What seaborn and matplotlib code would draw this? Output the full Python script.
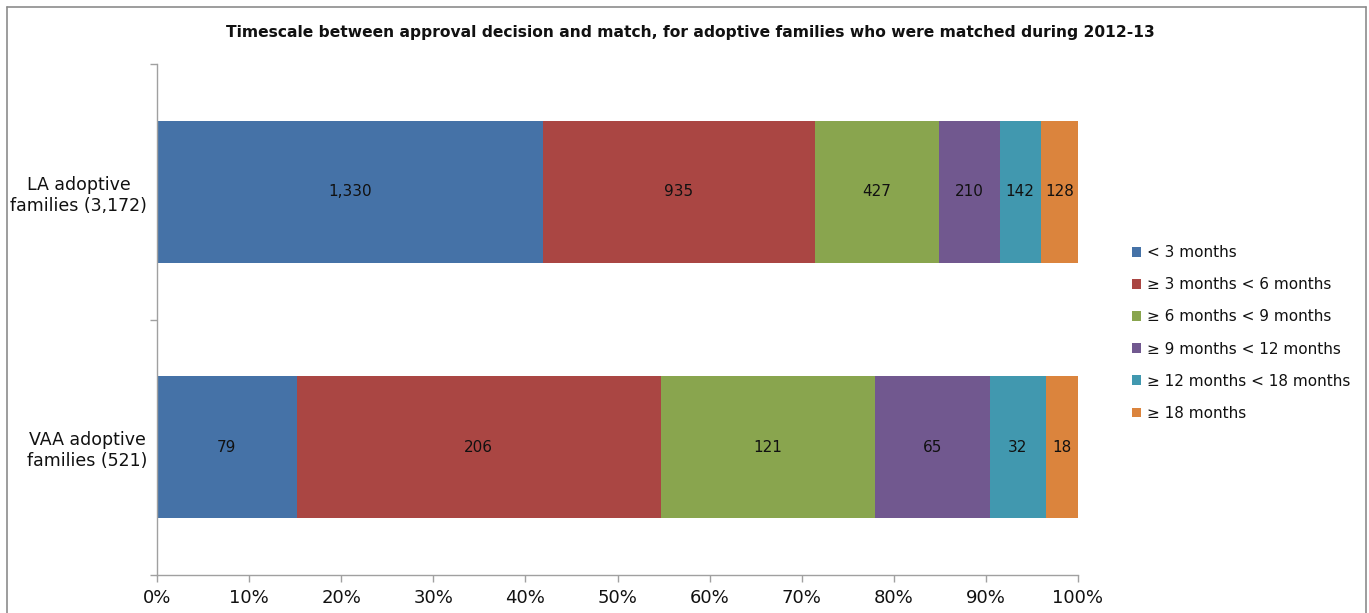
import numpy as np
import pandas as pd
import matplotlib
matplotlib.use("Agg")
import matplotlib.pyplot as plt
from matplotlib.lines import Line2D
from matplotlib.ticker import PercentFormatter
import seaborn as sns

# Data
groups = ["LA adoptive\nfamilies (3,172)", "VAA adoptive\nfamilies (521)"]
bands = ["< 3 months", "\u2265 3 months < 6 months", "\u2265 6 months < 9 months",
         "\u2265 9 months < 12 months", "\u2265 12 months < 18 months", "\u2265 18 months"]
la_counts = [1330, 935, 427, 210, 142, 128]
vaa_counts = [79, 206, 121, 65, 32, 18]
colors = ["#4572A7", "#AA4643", "#89A54E", "#71588F", "#4198AF", "#DB843D"]

counts = np.array([la_counts, vaa_counts], dtype=float)
pct = counts / counts.sum(axis=1, keepdims=True) * 100
cum = pct.cumsum(axis=1)

df = pd.DataFrame({
    "group": np.repeat(groups, len(bands)),
    "band": bands * len(groups),
    "count": counts.ravel(),
    "pct": pct.ravel(),
    "cum": cum.ravel(),
})

sns.set_style("white")
plt.rcParams["font.family"] = ["DejaVu Sans"]
plt.rcParams["text.color"] = "#111111"
plt.rcParams["xtick.color"] = "#111111"
plt.rcParams["ytick.color"] = "#111111"

fig = plt.figure(figsize=(13.69, 6.13), dpi=100)
ax = fig.add_axes([157 / 1369, 38 / 613, 921 / 1369, 511 / 613])

# stacked bars: draw cumulative totals from the widest down
for band, col in reversed(list(zip(bands, colors))):
    sub = df[df["band"] == band]
    sns.barplot(data=sub, x="cum", y="group", order=groups, color=col,
                width=0.556, orient="h", ax=ax, saturation=1, label=band,
                errorbar=None, linewidth=0)

# value labels in the middle of each segment
for _, r in df.iterrows():
    yi = groups.index(r["group"])
    ax.text(r["cum"] - r["pct"] / 2, yi, f"{int(r['count']):,}",
            ha="center", va="center", fontsize=11, color="#111111")

ax.set_xlim(0, 100)
ax.set_ylim(1.5, -0.5)
ax.set_xticks(np.arange(0, 101, 10))
ax.xaxis.set_major_formatter(PercentFormatter(decimals=0))
ax.set_yticks([0, 1])
ax.set_yticklabels(groups, multialignment="center")
ax.set_yticks([-0.5, 0.5, 1.5], minor=True)
ax.tick_params(axis="y", which="major", length=0, pad=7, labelsize=12.5, left=False)
ax.tick_params(axis="y", which="minor", length=5, color="#A0A0A0", width=1, left=True)
ax.tick_params(axis="x", length=5, color="#A0A0A0", width=1, labelsize=13, pad=5,
               bottom=True)
ax.set_xlabel("")
ax.set_ylabel("")
for s in ["top", "right"]:
    ax.spines[s].set_visible(False)
for s in ["left", "bottom"]:
    ax.spines[s].set_color("#A0A0A0")
    ax.spines[s].set_linewidth(1)

# legend in original order
handles, labels = ax.get_legend_handles_labels()
order = [labels.index(b) for b in bands]
ax.legend([handles[i] for i in order], [labels[i] for i in order],
          loc="center left", bbox_to_anchor=(1126 / 1369, 1 - 333 / 613),
          bbox_transform=fig.transFigure, frameon=False, fontsize=11,
          handlelength=0.6, handleheight=0.6, handletextpad=0.4,
          labelspacing=1.12, borderaxespad=0)

fig.text(690 / 1369, 1 - 32 / 613,
         "Timescale between approval decision and match, for adoptive families who were matched during 2012-13",
         ha="center", va="center", fontsize=11.2, fontweight="bold")

# chart outer border
bc = "#8C8C8C"
x0, x1, yt = 7 / 1369, 1366 / 1369, 1 - 7 / 613
fig.add_artist(Line2D([x0, x1], [yt, yt], color=bc, lw=1.2, transform=fig.transFigure))
fig.add_artist(Line2D([x0, x0], [0, yt], color=bc, lw=1.2, transform=fig.transFigure))
fig.add_artist(Line2D([x1, x1], [0, yt], color=bc, lw=1.2, transform=fig.transFigure))

fig.savefig("out.png", dpi=100)
